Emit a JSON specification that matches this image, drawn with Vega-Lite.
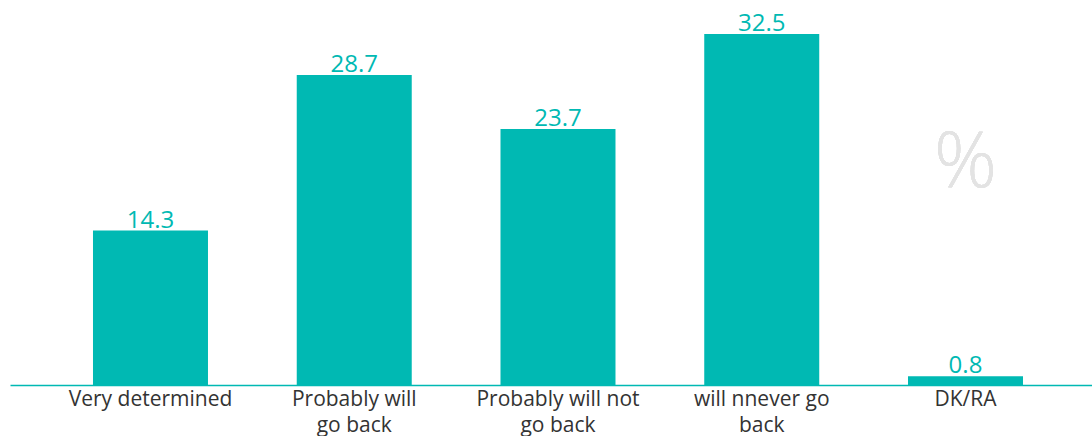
{
  "$schema": "https://vega.github.io/schema/vega-lite/v6.json",
  "width": 1082,
  "height": 385,
  "autosize": {"type": "none"},
  "padding": {"left": 10, "top": 0, "right": 0, "bottom": 51},
  "background": "white",
  "config": {"view": {"stroke": null}, "font": "Open Sans"},
  "data": {
    "values": [
      {"category": "Very determined", "value": 14.3},
      {"category": "Probably will go back", "value": 28.7},
      {"category": "Probably will not go back", "value": 23.7},
      {"category": "will nnever go back", "value": 32.5},
      {"category": "DK/RA", "value": 0.8}
    ]
  },
  "encoding": {
    "x": {
      "field": "category",
      "type": "nominal",
      "sort": null,
      "scale": {"paddingInner": 0.4356, "paddingOuter": 0.373, "align": 0.546},
      "axis": {
        "title": null,
        "labelAngle": 0,
        "ticks": false,
        "domainColor": "#00b9b3",
        "domainWidth": 1.5,
        "labelColor": "#333333",
        "labelFont": "Open Sans",
        "labelFontSize": 21,
        "labelPadding": 3,
        "labelLineHeight": 26,
        "labelLimit": 300,
        "labelBaseline": "top",
        "labelExpr": "datum.label == 'Probably will go back' ? ['Probably will', 'go back'] : datum.label == 'Probably will not go back' ? ['Probably will not', 'go back'] : datum.label == 'will nnever go back' ? ['will nnever go', 'back'] : datum.label"
      }
    },
    "y": {
      "field": "value",
      "type": "quantitative",
      "scale": {"domain": [0, 35.65], "nice": false, "zero": true},
      "axis": null
    }
  },
  "layer": [
    {"mark": {"type": "bar", "color": "#00b9b3"}},
    {
      "mark": {"type": "text", "color": "#00b9b3", "font": "Open Sans", "fontSize": 24, "baseline": "alphabetic", "dy": -3},
      "encoding": {"text": {"field": "value", "type": "quantitative", "format": ".1f"}}
    },
    {
      "mark": {"type": "text", "color": "#e3e3e3", "font": "Open Sans", "fontSize": 78, "fontWeight": 300, "baseline": "alphabetic", "align": "center"},
      "encoding": {
        "x": {"datum": "DK/RA"},
        "y": {"datum": 18.3},
        "text": {"value": "%"}
      }
    }
  ]
}
